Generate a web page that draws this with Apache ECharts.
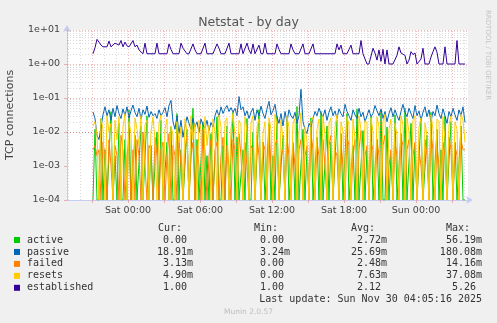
<!DOCTYPE html>
<html><head><meta charset="utf-8">
<script src="https://cdn.jsdelivr.net/npm/echarts@6/dist/echarts.min.js"></script>
<style>html,body{margin:0;padding:0;background:#f0f0f0;}#c{width:497px;height:323px;}</style>
</head><body><div id="c"></div>
<script>
// ---- text ----
const chartTitle = 'Netstat - by day';
const yAxisName = 'TCP connections';
const sideText = 'RRDTOOL / TOBI OETIKER';
const footerText = 'Munin 2.0.57';
const lastUpdate = 'Last update: Sun Nov 30 04:05:16 2025';
// ---- x axis (hours relative to Sat 00:00) ----
const xTickHours = [0, 6, 12, 18, 24];
const xTickLabels = ['Sat 00:00', 'Sat 06:00', 'Sat 12:00', 'Sat 18:00', 'Sun 00:00'];
const xMin = -5.0833, xMax = 28.3333;
const startHour = -2.9167;   // first sample: Fri 21:05
const stepHour = 1 / 6;      // 10-minute samples
// ---- y axis ----
const yMin = 1e-4, yMax = 10;
// ---- series ----
const seriesNames = ['active', 'passive', 'failed', 'resets', 'established'];
const seriesColors = ['#00cc00', '#0066b3', '#ff8000', '#ffcc00', '#330099'];
// values in thousandths (m)
const active = [
 0,12,0,0,25,0,3,0,0,40,0,2,0,18,0,0,6,0,45,0,
 0,8,0,0,15,0,0,30,0,4,0,0,10,0,22,0,0,5,0,14,
 0,0,35,0,3,0,0,12,0,0,50,0,6,0,0,20,0,2,0,9,
 0,0,28,0,0,4,0,15,0,0,38,0,7,0,0,3,0,25,0,0,
 10,0,0,45,0,5,0,0,18,0,2,0,30,0,0,8,0,20,0,0,
 4,0,56,0,0,12,0,3,0,26,0,0,7,0,40,0,0,15,0,5,
 0,0,22,0,9,0,0,35,0,0,4,0,48,0,0,11,0,3,0,28,
 0,0,6,0,42,0,0,14,0,2,0,32,0,0,9,0,50,0,0,18,
 0,4,0,0,25,0,0,8,0,38,0,0,12,0,3,0,30,0,0,20,
 0,5,0,0,15,0,0];
const passive = [
 39,25,8,6,14,32,55,30,45,22,50,28,60,35,25,48,30,55,26,42,
 62,38,28,50,24,45,33,58,27,40,30,35,25,45,30,38,52,28,60,85,
 20,12,30,9,22,7,15,28,18,12,25,14,20,10,24,16,13,22,11,19,
 14,30,45,28,55,35,48,60,40,52,38,50,30,110,45,55,30,42,25,38,
 50,22,45,30,58,35,25,48,80,32,42,65,28,18,35,15,40,20,45,30,
 25,38,18,30,180,20,12,9,18,14,25,40,30,50,35,28,45,22,38,55,
 30,42,25,48,35,28,65,40,30,22,45,32,25,50,28,38,20,30,45,28,
 35,60,42,30,48,25,40,20,35,52,28,45,30,22,40,65,38,28,50,35,
 25,60,30,42,22,38,55,28,45,20,40,30,62,35,25,48,30,18,40,28,
 50,32,22,45,30,55,19];
const failed = [
 3,4,2,3,0,5,2,0,6,1,0,4,2,0,8,3,0,2,5,0,
 3,0,6,2,0,10,1,0,4,3,0,7,2,0,3,5,0,2,9,0,
 4,2,0,6,1,0,3,8,0,2,5,0,4,1,0,12,3,0,2,6,
 0,3,5,0,2,7,0,4,1,0,6,3,0,9,2,0,5,1,0,4,
 3,0,8,2,0,5,3,0,14,1,0,4,6,0,2,3,0,7,2,0,
 5,1,0,3,6,0,2,4,0,9,3,0,5,2,0,6,1,0,4,8,
 0,3,2,0,5,1,0,7,4,0,2,6,0,3,11,0,2,4,0,5,
 3,0,6,2,0,4,8,0,1,3,0,5,2,0,7,4,0,3,6,0,
 2,5,0,3,1,0,6,2,0,9,3,0,4,1,0,5,2,0,7,3,
 0,4,2,0,6,3,3];
const resets = [
 15,20,8,0,25,12,0,30,10,18,0,22,6,28,0,14,35,0,20,9,
 0,26,12,4,30,0,16,22,0,10,28,6,0,18,32,0,12,24,0,15,
 8,0,20,5,14,0,25,10,0,30,6,18,0,22,12,0,28,4,16,0,
 24,10,0,32,14,0,20,26,0,12,35,8,0,22,16,0,28,10,0,18,
 30,0,14,24,0,9,20,0,26,12,0,34,16,0,22,6,0,28,14,0,
 18,25,0,10,37,0,14,5,0,20,28,0,12,24,0,30,8,0,18,26,
 0,14,32,0,20,10,0,28,16,0,24,6,0,30,12,0,22,18,0,26,
 10,0,28,14,0,20,33,0,12,24,0,18,8,0,30,16,0,26,10,0,
 22,30,0,14,26,0,18,8,0,32,12,0,24,20,0,28,6,0,16,30,
 0,20,12,0,34,22,5];
// values in units
const established = [
 2,3.0,5.3,4.4,3.6,3.2,3.2,3.2,4.7,3.2,
 3.6,4.1,4.4,3.6,4.9,3.2,4.4,3.4,3.2,3.6,
 4.9,3.2,3.6,2.6,2.9,2,4.1,2,2,2,
 2,2,4.1,2,2,2,2,2,3.9,2.7,
 2,2,2,2,4.1,2.9,2.9,2,2,2,
 3.9,2.6,2,2,2,2,4.1,2,2,2,
 2,2,3.9,2.9,2,2,2,2,4.1,2,
 2,2,2,2,3.9,2,2,4.1,2.6,2,
 3.9,2,2,3.6,2,2,4.1,2,2,2,
 2,2,3.9,2.7,2,2,2,2,2,3.9,
 2.6,2,2,2,2,3.9,2,2,2,2,
 3.9,2,2,2,2,2,2,2,2,2,
 2,2,3.9,2.6,3.6,2,2,2,2,3.6,
 2,2,2,2,4.9,2,2,1,1,1,
 2.9,2.1,1.3,2.6,1.2,2.7,1,2.6,1,1,
 1,1,1.8,3.2,2.1,2.0,1.8,1,1.3,2.3,
 1.9,2.1,1,1,1.4,2.9,1,1,1,1.6,
 2.3,3.2,2.2,1,1,1,3.2,1,1,1,
 1,1,4.9,1,1,1,1];
const seriesScale = [1e-3, 1e-3, 1e-3, 1e-3, 1];
const seriesValues = [active, passive, failed, resets, established];
// ---- legend table ----
const legendHeaders = ['Cur:', 'Min:', 'Avg:', 'Max:'];
const legendCur = ['0.00 ', '18.91m', '3.13m', '4.90m', '1.00 '];
const legendMin = ['0.00 ', '3.24m', '0.00 ', '0.00 ', '1.00 '];
const legendAvg = ['2.72m', '25.69m', '2.48m', '7.63m', '2.12 '];
const legendMax = ['56.19m', '180.08m', '14.16m', '37.08m', '5.26 '];

// ---- build ----
const SANS = 'DejaVu Sans', MONO = 'DejaVu Sans Mono';
const gridL = 67, gridT = 30, gridW = 401, gridH = 170;
const minorColor = 'rgba(150,150,150,0.35)', majorColor = 'rgba(235,120,120,0.55)';

const gridLines = [];
for (let h = Math.ceil(xMin); h <= Math.floor(xMax); h++) {
  gridLines.push({ xAxis: h, lineStyle: { color: (h % 3 === 0) ? majorColor : minorColor, type: [1, 2], width: 1 } });
}
for (let k = -4; k <= 1; k++) {
  gridLines.push({ yAxis: Math.pow(10, k), lineStyle: { color: majorColor, type: [1, 2], width: 1 } });
  if (k < 1) for (let m = 2; m <= 9; m++) {
    gridLines.push({ yAxis: m * Math.pow(10, k), lineStyle: { color: minorColor, type: [1, 2], width: 1 } });
  }
}

const series = [{
  type: 'line', data: [], silent: true, z: 1,
  markLine: { silent: true, symbol: ['none', 'none'], label: { show: false }, animation: false, data: gridLines }
}];
seriesValues.forEach((arr, s) => {
  series.push({
    name: seriesNames[s], type: 'line', showSymbol: false, z: 2 + s,
    lineStyle: { width: 1, color: seriesColors[s] }, itemStyle: { color: seriesColors[s] },
    animation: false, silent: true,
    data: arr.map((v, i) => [startHour + i * stepHour, v === 0 ? yMin : v * seriesScale[s]])
  });
});

const graphic = [];
graphic.push({ type: 'text', x: 10, y: 115, rotation: Math.PI / 2,
  style: { text: yAxisName, font: '11px "' + SANS + '"', fill: '#444', align: 'center', verticalAlign: 'middle' } });
graphic.push({ type: 'text', x: 488, y: 55, rotation: -Math.PI / 2,
  style: { text: sideText, font: '7px "' + SANS + '"', fill: '#c4c4c4', align: 'center', verticalAlign: 'middle' } });
graphic.push({ type: 'text', x: 248.5, y: 312,
  style: { text: footerText, font: '7.5px "' + SANS + '"', fill: '#bdbdbd', align: 'center', verticalAlign: 'middle' } });
const headerRight = [182, 278, 375, 470];
legendHeaders.forEach((h, j) => graphic.push({ type: 'text', x: headerRight[j], y: 228,
  style: { text: h, font: '10px "' + MONO + '"', fill: '#333', align: 'right', verticalAlign: 'middle' } }));
const colRight = [193, 290, 387, 482];
const cols = [legendCur, legendMin, legendAvg, legendMax];
seriesNames.forEach((n, r) => {
  const y = 240 + r * 11.95;
  graphic.push({ type: 'rect', shape: { x: 14, y: y - 3, width: 6, height: 6 }, style: { fill: seriesColors[r] } });
  graphic.push({ type: 'text', x: 27, y: y, style: { text: n, font: '10px "' + MONO + '"', fill: '#333', align: 'left', verticalAlign: 'middle' } });
  cols.forEach((c, j) => graphic.push({ type: 'text', x: colRight[j], y: y,
    style: { text: c[r], font: '10px "' + MONO + '"', fill: '#333', align: 'right', verticalAlign: 'middle' } }));
});
graphic.push({ type: 'text', x: 482, y: 299.5,
  style: { text: lastUpdate, font: '10px "' + MONO + '"', fill: '#333', align: 'right', verticalAlign: 'middle' } });

const axisColor = '#c6cbf2';
const option = {
  backgroundColor: '#f0f0f0',
  animation: false,
  title: { text: chartTitle, left: 'center', top: 11,
    textStyle: { fontFamily: SANS, fontSize: 12.5, fontWeight: 'normal', color: '#555' } },
  grid: { left: gridL, top: gridT, width: gridW, height: gridH, show: true, backgroundColor: '#fff', borderWidth: 0 },
  xAxis: {
    type: 'value', min: xMin, max: xMax,
    axisLine: { show: true, onZero: false, lineStyle: { color: axisColor, width: 1 }, symbol: ['none', 'arrow'], symbolSize: [6, 7], symbolOffset: [0, 5] },
    axisTick: { show: true, length: 3, lineStyle: { color: majorColor }, customValues: [-3,0,3,6,9,12,15,18,21,24,27] },
    axisLabel: { customValues: xTickHours, margin: 6, fontFamily: SANS, fontSize: 9.5, color: '#444',
      formatter: v => { const k = xTickHours.indexOf(Math.round(v)); return k >= 0 ? xTickLabels[k] : ''; } },
    splitLine: { show: false }
  },
  yAxis: {
    type: 'log', logBase: 10, min: yMin, max: yMax,
    axisLine: { show: true, onZero: false, lineStyle: { color: axisColor, width: 1 }, symbol: ['none', 'arrow'], symbolSize: [6, 7], symbolOffset: [0, 5] },
    axisTick: { show: true, length: 3, lineStyle: { color: majorColor } },
    axisLabel: { margin: 7, fontFamily: SANS, fontSize: 9.5, color: '#444',
      formatter: v => { const e = Math.round(Math.log10(v)); return '1e' + (e < 0 ? '-' : '+') + String(Math.abs(e)).padStart(2, '0'); } },
    splitLine: { show: false }
  },
  series: series,
  graphic: graphic
};
const chart = echarts.init(document.getElementById('c'), null, { renderer: 'canvas' });
chart.setOption(option);
</script>
</body></html>
